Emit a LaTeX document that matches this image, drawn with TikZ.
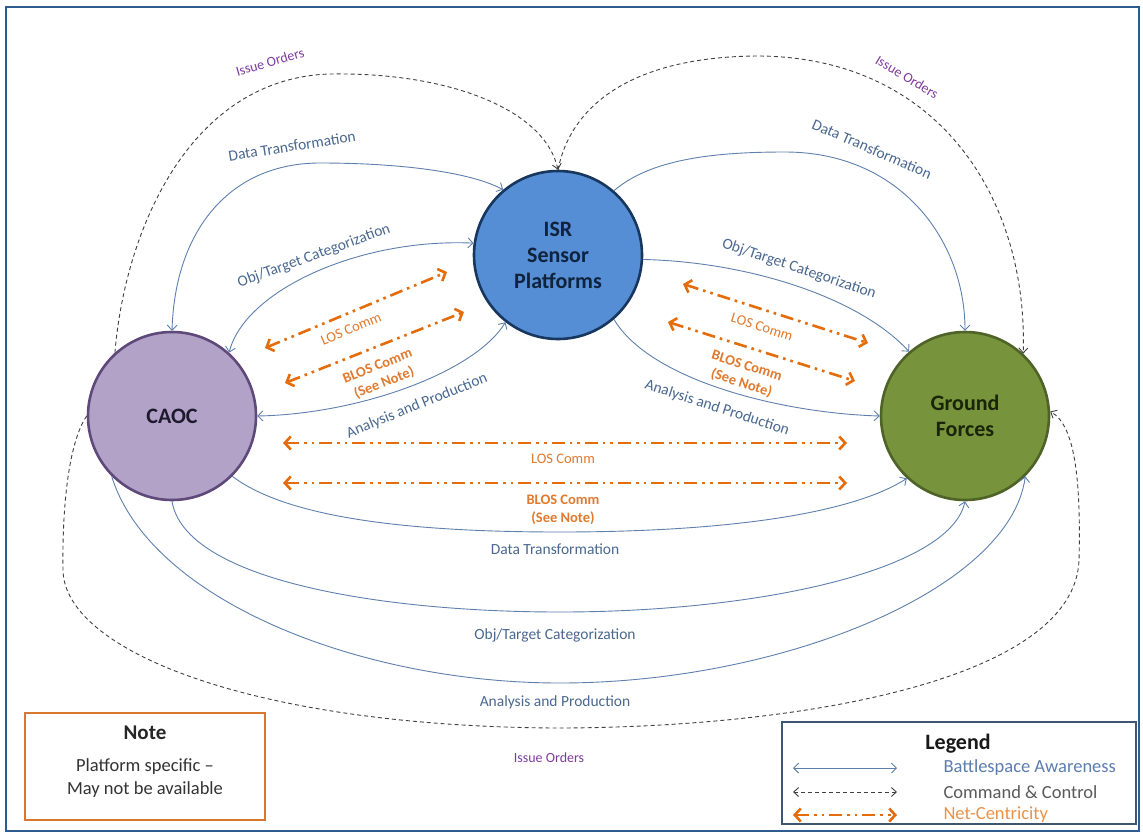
\documentclass[tikz,border=0pt]{standalone}
\usepackage{fontspec}
\setmainfont{Carlito}
\usetikzlibrary{arrows.meta}
\definecolor{frameblue}{HTML}{2E5C8E}
\definecolor{blueline}{HTML}{5F80AD}
\definecolor{bluetext}{HTML}{4A6890}
\definecolor{ccgray}{HTML}{404040}
\definecolor{cctext}{HTML}{5A5A5A}
\definecolor{ncorange}{HTML}{E46C0A}
\definecolor{nctext}{HTML}{E07A2E}
\definecolor{nclegend}{HTML}{E8924A}
\definecolor{balegend}{HTML}{5B7DB0}
\definecolor{iopurple}{HTML}{7E3C9E}
\definecolor{isrfill}{HTML}{558ED5}
\definecolor{isrline}{HTML}{17375E}
\definecolor{isrtxt}{HTML}{10233D}
\definecolor{caocfill}{HTML}{B3A2C7}
\definecolor{caocline}{HTML}{5F497A}
\definecolor{caoctxt}{HTML}{1E1A2E}
\definecolor{gffill}{HTML}{77933C}
\definecolor{gfline}{HTML}{4F6228}
\definecolor{gftxt}{HTML}{1A2408}
\definecolor{noteline}{HTML}{D9782E}
\definecolor{legline}{HTML}{3F5670}
\begin{document}
\begin{tikzpicture}[x=1pt,y=-1pt,
  circ/.style={circle, minimum size=168pt, inner sep=0pt, line width=2.6pt, align=center, font=\fontsize{22}{26}\selectfont\bfseries},
  lbl/.style={text=bluetext, font=\fontsize{15.5}{18}\selectfont, inner sep=1pt},
  nclbl/.style={text=nctext, font=\fontsize{14.5}{17}\selectfont, inner sep=1pt, align=center},
  ncbold/.style={text=nctext, font=\fontsize{14.5}{18}\selectfont\bfseries, inner sep=1pt, align=center},
  iolbl/.style={text=iopurple, font=\fontsize{14}{16}\selectfont, inner sep=1pt},
  ba/.style={draw=blueline, line width=0.9pt, -{Straight Barb[length=5pt,width=10pt]}},
  baboth/.style={draw=blueline, line width=0.9pt, {Straight Barb[length=5pt,width=10pt]}-{Straight Barb[length=5pt,width=10pt]}},
  cc/.style={draw=ccgray, line width=0.9pt, dash pattern=on 4pt off 3pt, -{Straight Barb[length=5pt,width=9pt]}},
  ccboth/.style={draw=ccgray, line width=0.9pt, dash pattern=on 4pt off 3pt, {Straight Barb[length=5pt,width=9pt]}-{Straight Barb[length=5pt,width=9pt]}},
  nc/.style={draw=ncorange, line width=2.6pt, dash pattern=on 13pt off 5pt on 2.6pt off 5pt on 2.6pt off 5pt, {Straight Barb[length=6pt,width=13pt]}-{Straight Barb[length=6pt,width=13pt]}},
]
\useasboundingbox (0,0) rectangle (1143,836);
\fill[white] (0,0) rectangle (1143,836);
\draw[frameblue, line width=2.5pt] (6,7) rectangle (1139,831);

% main nodes
\node[circ, fill=isrfill, draw=isrline, text=isrtxt] (isr) at (558,255) {ISR\\Sensor\\Platforms};
\node[circ, fill=caocfill, draw=caocline, text=caoctxt] (caoc) at (172,416) {CAOC};
\node[circ, fill=gffill, draw=gfline, text=gftxt] (gf) at (965,416) {Ground\\Forces};

% Command & Control (dashed)
\draw[cc] (caoc.132) .. controls (125,230) and (190,78) .. (330,74) .. controls (450,72) and (545,110) .. (isr.90);
\node[iolbl, rotate=16] (io1) at (270,62) {Issue Orders};
\draw[cc] (isr.90) .. controls (572,100) and (640,56) .. (760,56) .. controls (940,58) and (1028,200) .. (gf.47);
\node[iolbl, rotate=-31] (io2) at (907,77) {Issue Orders};
\draw[cc] (caoc.180) .. controls (70,440) and (62,500) .. (63,570) .. controls (64,650) and (250,726) .. (555,728) .. controls (800,728) and (1075,680) .. (1079,560) .. controls (1081,480) and (1075,425) .. (gf.3);
\node[iolbl] (io3) at (549,758) {Issue Orders};

% Battlespace Awareness: CAOC - ISR
\draw[baboth] (caoc.90) .. controls (175,230) and (230,163) .. (320,163) .. controls (400,163) and (470,172) .. (isr.130);
\node[lbl, rotate=9] (ldt) at (292,146) {Data Transformation};
\draw[baboth] (caoc.48) .. controls (245,290) and (360,238) .. (isr.172);
\node[lbl, rotate=20] (lot) at (314,256) {Obj/Target Categorization};
\draw[baboth] (isr.232) .. controls (475,372) and (360,414) .. (caoc.0);
\node[lbl, rotate=22] (lap) at (417,406) {Analysis and Production};

% ISR - Ground Forces
\draw[ba] (isr.49) .. controls (650,160) and (710,152) .. (785,152) .. controls (900,152) and (965,240) .. (gf.90);
\node[lbl, rotate=-23.5] (rdt) at (872,149) {Data Transformation};
\draw[ba] (isr.-3) .. controls (750,262) and (860,298) .. (gf.131);
\node[lbl, rotate=-18.5] (rot) at (799,269) {Obj/Target Categorization};
\draw[ba] (isr.-49) .. controls (650,380) and (780,413) .. (gf.180);
\node[lbl, rotate=-18] (rap) at (717,408) {Analysis and Production};

% CAOC - Ground Forces
\draw[ba] (caoc.-45) .. controls (290,520) and (420,532) .. (560,532) .. controls (720,532) and (850,515) .. (gf.-133);
\node[lbl] (bdt) at (555,549) {Data Transformation};
\draw[ba] (caoc.-90) .. controls (185,580) and (380,612) .. (560,612) .. controls (760,612) and (950,570) .. (gf.-90);
\node[lbl] (bot) at (555,635) {Obj/Target Categorization};
\draw[ba] (caoc.-135) .. controls (150,600) and (360,683) .. (560,683) .. controls (780,683) and (1010,590) .. (gf.-45);
\node[lbl] (bap) at (555,702) {Analysis and Production};

% Net-Centricity
\coordinate (l1a) at (265,348); \coordinate (l1b) at (447,272);
\draw[nc] (l1a) -- (l1b);
\node[nclbl, rotate=22.7] (l1t) at (351,329) {LOS Comm};
\coordinate (l2a) at (285,383); \coordinate (l2b) at (464,312);
\draw[nc] (l2a) -- (l2b);
\node[ncbold, rotate=21.6] (l2t) at (381,375) {BLOS Comm\\(See Note)};

\coordinate (r1a) at (683,284); \coordinate (r1b) at (868,343);
\draw[nc] (r1a) -- (r1b);
\node[nclbl, rotate=-17.7] (r1t) at (762,327) {LOS Comm};
\coordinate (r2a) at (668,322); \coordinate (r2b) at (855,381);
\draw[nc] (r2a) -- (r2b);
\node[ncbold, rotate=-17.5] (r2t) at (744,375) {BLOS Comm\\(See Note)};

\coordinate (b1a) at (283,443); \coordinate (b1b) at (847,443);
\draw[nc] (b1a) -- (b1b);
\node[nclbl] (b1t) at (563,459) {LOS Comm};
\coordinate (b2a) at (283,483); \coordinate (b2b) at (847,483);
\draw[nc] (b2a) -- (b2b);
\node[ncbold] (b2t) at (563,510) {BLOS Comm\\(See Note)};

% Note box
\node[draw=noteline, line width=2.6pt, fill=white, minimum width=240pt, minimum height=107pt, inner sep=0pt] (note) at (145,766.5) {};
\node[font=\fontsize{21}{24}\selectfont\bfseries, text=black!85] (notet) at (145,733) {Note};
\node[font=\fontsize{18.5}{23}\selectfont, text=black!80, align=center] (notebody) at (145,778) {Platform specific --\\May not be available};

% Legend
\node[draw=legline, line width=2.6pt, fill=white, minimum width=354pt, minimum height=102pt, inner sep=0pt] (legend) at (959,773) {};
\node[font=\fontsize{22}{24}\selectfont\bfseries, text=black!90] (legt) at (958,744) {Legend};
\coordinate (la1) at (793,768); \coordinate (lb1) at (897,768);
\draw[baboth] (la1) -- (lb1);
\node[anchor=west, text=balegend, font=\fontsize{18.5}{20}\selectfont] (lt1) at (940,768) {Battlespace Awareness};
\coordinate (la2) at (793,792); \coordinate (lb2) at (897,792);
\draw[ccboth] (la2) -- (lb2);
\node[anchor=west, text=cctext, font=\fontsize{18.5}{20}\selectfont] (lt2) at (940,792) {Command \& Control};
\coordinate (la3) at (793,815); \coordinate (lb3) at (897,815);
\draw[nc] (la3) -- (lb3);
\node[anchor=west, text=nclegend, font=\fontsize{18.5}{20}\selectfont] (lt3) at (940,815) {Net-Centricity};
\end{tikzpicture}
\end{document}
